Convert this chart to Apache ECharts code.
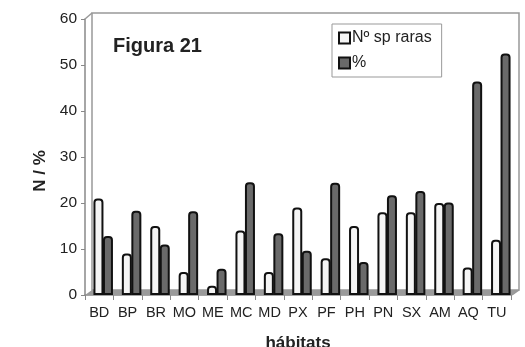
<!DOCTYPE html>
<html><head><meta charset="utf-8">
<script src="https://cdn.jsdelivr.net/npm/echarts@6/dist/echarts.min.js"></script>
<style>html,body{margin:0;padding:0;background:#fff}#c{width:525px;height:347px}</style>
</head><body><div id="c"></div>
<script>
const categories = ['BD','BP','BR','MO','ME','MC','MD','PX','PF','PH','PN','SX','AM','AQ','TU'];
const nSpRaras = [21, 9, 15, 5, 2, 14, 5, 19, 8, 15, 18, 18, 20, 6, 12];
const percent = [12.8, 18.3, 11, 18.2, 5.7, 24.5, 13.4, 9.6, 24.4, 7.2, 21.7, 22.6, 20.1, 46.4, 52.5];
const yTicks = [0, 10, 20, 30, 40, 50, 60];

const chart = echarts.init(document.getElementById('c'));
const font = 'Liberation Sans, Arial, sans-serif';
const noBounds = {containLabel: false, outerBoundsMode: 'none'};
chart.setOption({
  animation: false,
  textStyle: {fontFamily: font},
  title: {text: 'Figura 21', left: 108, top: 31, textStyle: {fontSize: 20, fontWeight: 'bold', color: '#222', fontFamily: font}},
  grid: [
    Object.assign({left: 85, right: 14, top: 19, bottom: 52, show: false}, noBounds),
    Object.assign({left: 92, right: 6, top: 13, bottom: 57, show: true, borderColor: '#999', borderWidth: 1.5, backgroundColor: 'transparent'}, noBounds),
    Object.assign({left: 89, right: 10, top: 19, bottom: 52, show: false}, noBounds)
  ],
  legend: {
    orient: 'vertical', left: 332, top: 24, padding: [6, 10, 6, 6], itemGap: 9,
    borderColor: '#999', borderWidth: 1, backgroundColor: '#fff',
    itemWidth: 11, itemHeight: 11, icon: 'rect',
    textStyle: {fontSize: 16, color: '#222', fontFamily: font, padding: [0, 0, 0, -3]},
    data: ['Nº sp raras', '%']
  },
  xAxis: [
    {type: 'category', gridIndex: 0, data: categories, name: 'hábitats', nameLocation: 'middle', nameGap: 40,
     nameTextStyle: {fontSize: 17, fontWeight: 'bold', color: '#222'},
     axisLine: {lineStyle: {color: '#888', width: 1.5}},
     axisTick: {show: true, length: 5, lineStyle: {color: '#888'}},
     axisLabel: {fontSize: 14.5, color: '#222', margin: 10, interval: 0}},
    {type: 'category', gridIndex: 1, data: categories, show: false},
    {type: 'category', gridIndex: 2, data: categories, show: false}
  ],
  yAxis: [
    {type: 'value', gridIndex: 0, min: 0, max: 60, interval: 10, name: 'N / %', nameLocation: 'middle', nameGap: 34,
     nameTextStyle: {fontSize: 17, fontWeight: 'bold', color: '#222', padding: [0, 28, 0, 0]},
     axisLine: {show: true, lineStyle: {color: '#888', width: 1.5}},
     axisTick: {show: true, length: 4, lineStyle: {color: '#888'}},
     axisLabel: {fontSize: 15.5, color: '#222', margin: 8, formatter: v => yTicks.includes(v) ? String(v) : ''},
     splitLine: {show: false}},
    {type: 'value', gridIndex: 1, min: 0, max: 60, interval: 10, show: false, splitLine: {show: false}},
    {type: 'value', gridIndex: 2, min: 0, max: 60, interval: 10, show: false, splitLine: {show: false}}
  ],
  graphic: [
    {type: 'polygon', z: 1, shape: {points: [[85, 295], [92, 290], [519, 290], [512, 295]]}, style: {fill: '#9a9a9a'}},
    {type: 'line', z: 1, shape: {x1: 85, y1: 19, x2: 92, y2: 13}, style: {stroke: '#999', lineWidth: 1.5}},
    {type: 'line', z: 1, shape: {x1: 512, y1: 295, x2: 519, y2: 290}, style: {stroke: '#999', lineWidth: 1.5}}
  ],
  series: [
    {name: 'Nº sp raras', type: 'bar', xAxisIndex: 2, yAxisIndex: 2, data: nSpRaras, barWidth: 10, barGap: '-5%', z: 3,
     itemStyle: {color: '#f5f5f5', borderColor: '#111', borderWidth: 2, borderRadius: [3, 3, 0, 0]}},
    {name: '%', type: 'bar', xAxisIndex: 2, yAxisIndex: 2, data: percent, barWidth: 10, z: 3,
     itemStyle: {color: '#6a6a6a', borderColor: '#111', borderWidth: 2, borderRadius: [3, 3, 0, 0]}}
  ]
});
</script></body></html>
